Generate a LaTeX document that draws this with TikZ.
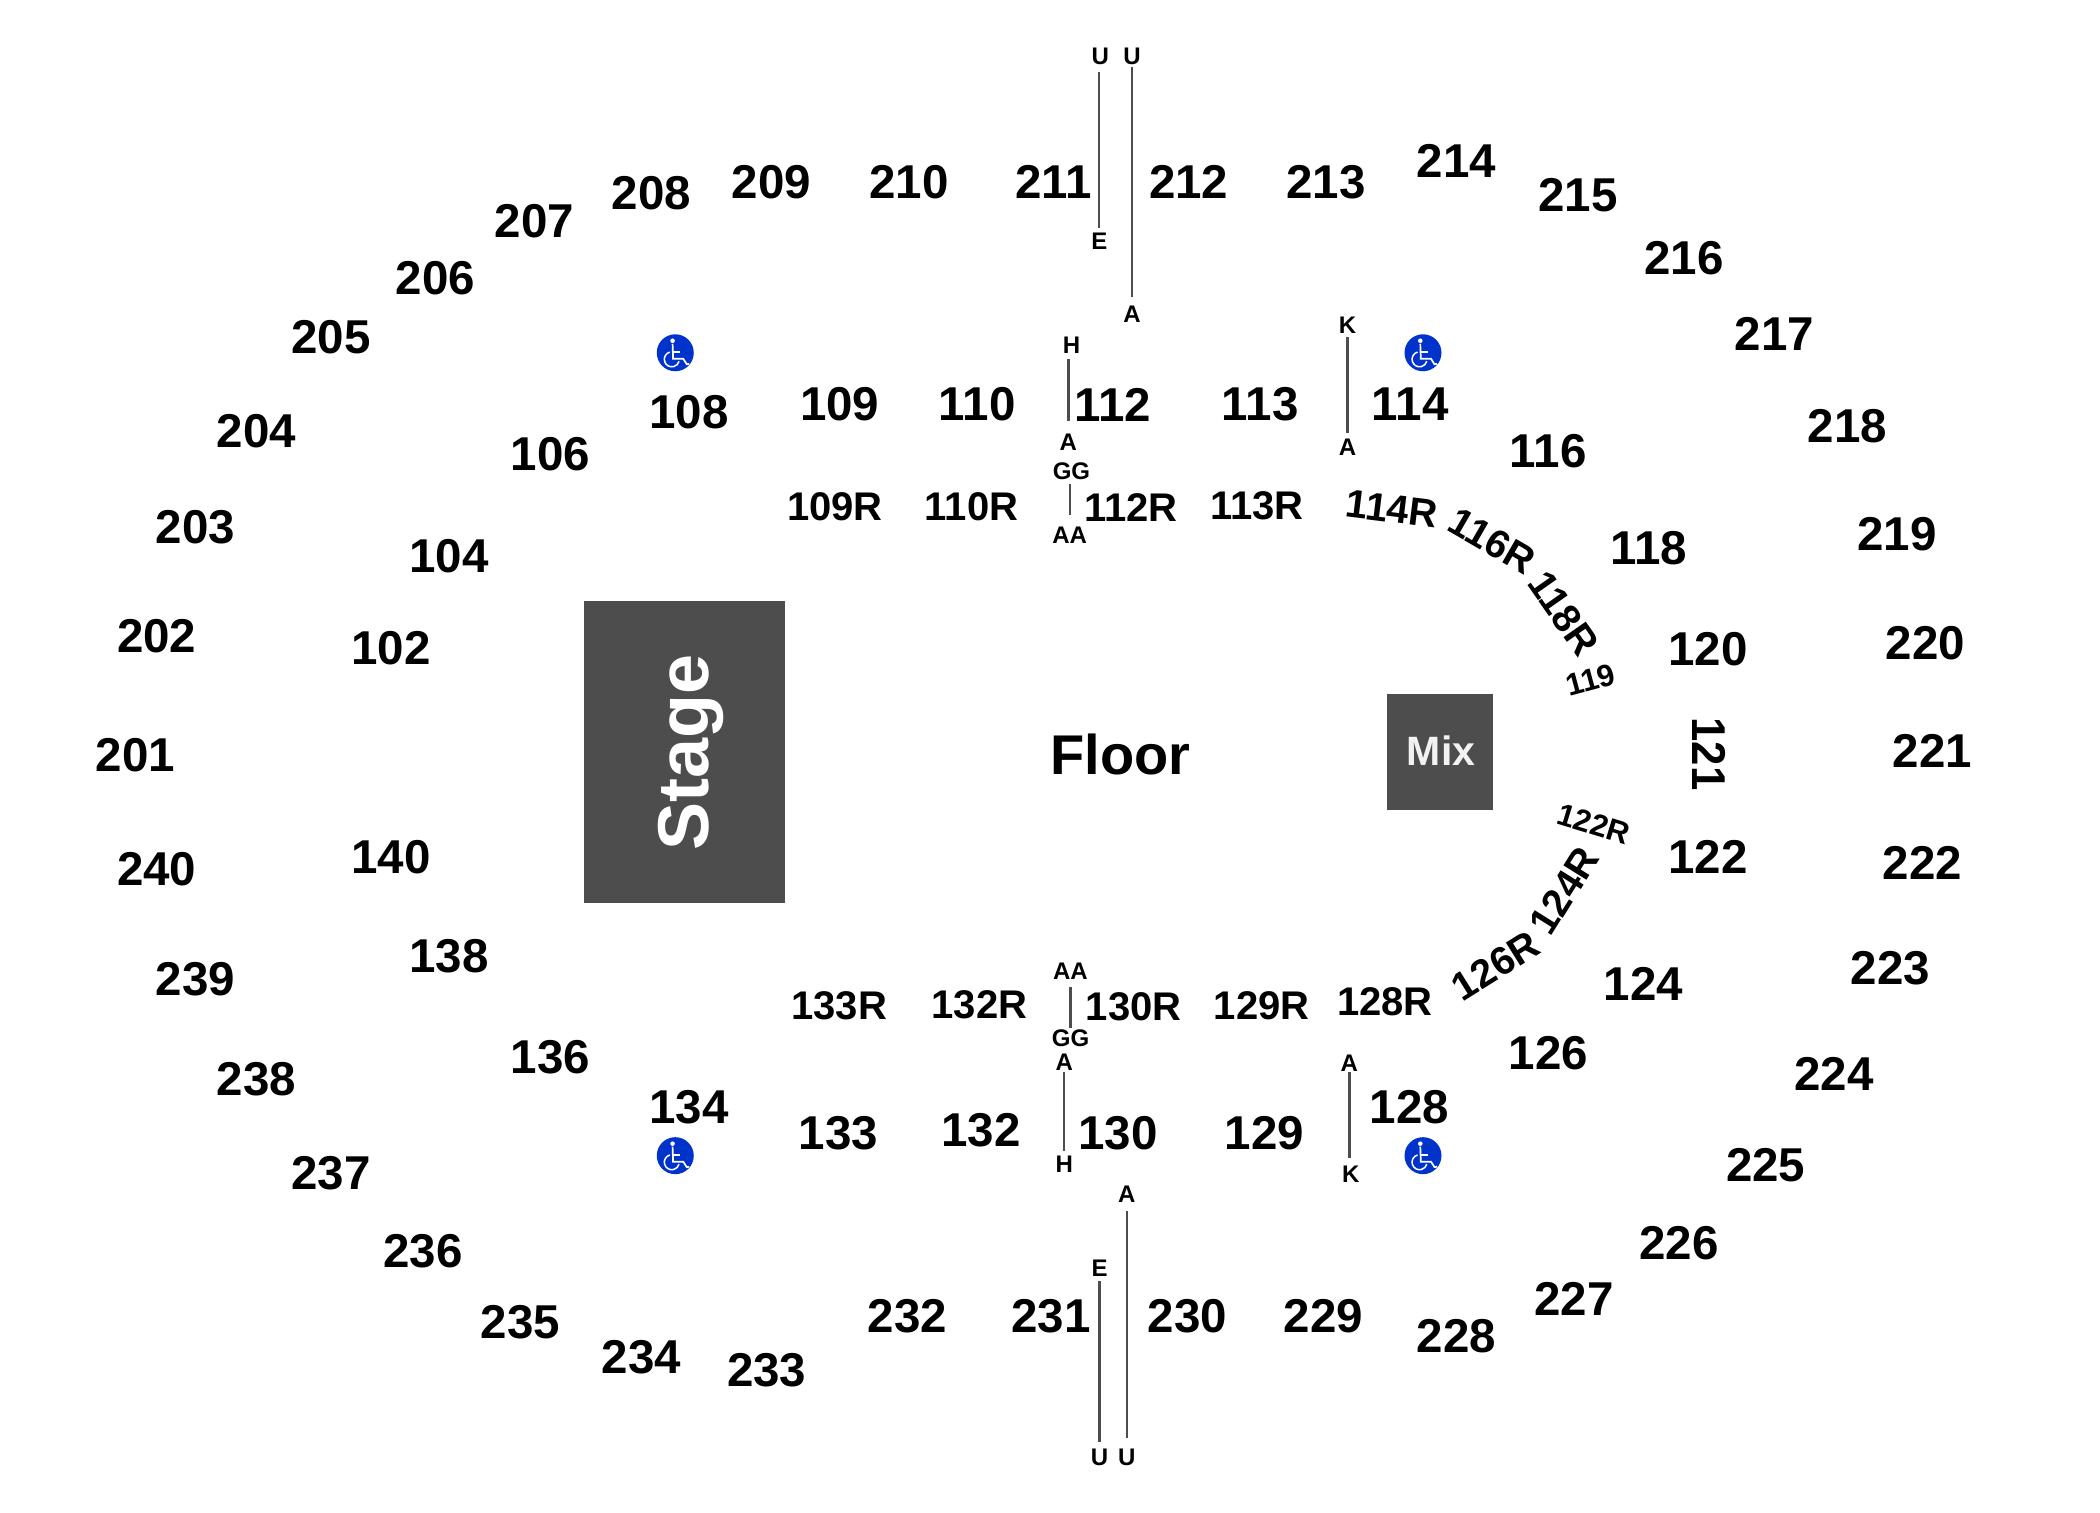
\documentclass[tikz,border=0pt]{standalone}
\usepackage{fontspec}
\usepackage{xcolor}
\setmainfont{Liberation Sans}
\definecolor{venuegrey}{HTML}{4D4D4D}
\definecolor{adablue}{HTML}{0033CC}
\tikzset{
	seclab/.style={inner sep=0pt,font=\fontsize{47.5}{50}\bfseries\selectfont},
	reslab/.style={inner sep=0pt,font=\fontsize{40}{42}\bfseries\selectfont},
	bendlab/.style={inner sep=0pt,font=\fontsize{39.5}{42}\bfseries\selectfont},
	tinylab/.style={inner sep=0pt,font=\fontsize{31}{33}\bfseries\selectfont},
	rowlab/.style={inner sep=0pt,font=\fontsize{24}{26}\bfseries\selectfont},
	rowline/.style={draw=venuegrey,line width=2.4pt},
	darkbox/.style={fill=venuegrey,inner sep=0pt},
	adadisc/.style={circle,fill=adablue,inner sep=0pt,minimum size=37pt},
	adaglyph/.pic={
		\fill[white] (-2.7pt,12pt) circle (2.3pt);
		\draw[white,line width=1.7pt] (-2.7pt,9pt) -- (-2.2pt,-6pt) -- (8pt,-6pt) -- (11.5pt,-11.5pt) -- (14pt,-11pt);
		\draw[white,line width=1.7pt] (-2.5pt,1pt) -- (5pt,1pt);
		\draw[white,line width=1.5pt] (-5.4pt,0.7pt) arc[start angle=105,end angle=345,radius=7.5pt];
	}
}

\begin{document}
\begin{tikzpicture}[x=1.3393pt,y=-1.3393pt]
	\useasboundingbox (0,0) rectangle (1568,1129);

	\node[darkbox,minimum width=201pt,minimum height=302pt] (stagebox) at (511,561.5) {};
	\node[darkbox,minimum width=106pt,minimum height=116pt] (mixbox) at (1075.2,561.2) {};
	\node[inner sep=0pt,rotate=90,text=white,font=\fontsize{72}{75}\bfseries\selectfont] (stagelab) at (516,561.5) {Stage};
	\node[inner sep=0pt,text=white!95!black,font=\fontsize{41}{44}\bfseries\selectfont] (mixlab) at (1076,560.5) {Mix};
	\node[inner sep=0pt,font=\fontsize{56}{58}\bfseries\selectfont] (floorlab) at (836.5,563) {Floor};

	\node[seclab] (s201) at (101,564) {201};
	\node[seclab] (s202) at (117,475) {202};
	\node[seclab] (s203) at (146,394) {203};
	\node[seclab] (s204) at (191.5,322) {204};
	\node[seclab] (s205) at (247,252) {205};
	\node[seclab] (s206) at (325,208) {206};
	\node[seclab] (s207) at (399,165) {207};
	\node[seclab] (s208) at (486.5,144) {208};
	\node[seclab] (s209) at (576,136) {209};
	\node[seclab] (s210) at (678.6,136) {210};
	\node[seclab] (s211) at (786.7,136) {211};
	\node[seclab] (s212) at (887.5,136) {212};
	\node[seclab] (s213) at (990,136) {213};
	\node[seclab] (s214) at (1087.4,120) {214};
	\node[seclab] (s215) at (1178.3,146) {215};
	\node[seclab] (s216) at (1257.4,193) {216};
	\node[seclab] (s217) at (1325,249) {217};
	\node[seclab] (s218) at (1379.5,318) {218};
	\node[seclab] (s219) at (1416.5,399) {219};
	\node[seclab] (s220) at (1437.5,480) {220};
	\node[seclab] (s221) at (1443,561) {221};
	\node[seclab] (s222) at (1435.5,644) {222};
	\node[seclab] (s223) at (1411.5,723) {223};
	\node[seclab] (s224) at (1369.5,802) {224};
	\node[seclab] (s225) at (1318.4,870) {225};
	\node[seclab] (s226) at (1253.5,928) {226};
	\node[seclab] (s227) at (1175.4,970) {227};
	\node[seclab] (s228) at (1087.4,998) {228};
	\node[seclab] (s229) at (988,983) {229};
	\node[seclab] (s230) at (886.6,983) {230};
	\node[seclab] (s231) at (784.8,983) {231};
	\node[seclab] (s232) at (677.6,983) {232};
	\node[seclab] (s233) at (572.5,1023) {233};
	\node[seclab] (s234) at (479,1013) {234};
	\node[seclab] (s235) at (388.6,987) {235};
	\node[seclab] (s236) at (315.8,934) {236};
	\node[seclab] (s237) at (247,876) {237};
	\node[seclab] (s238) at (191.5,806) {238};
	\node[seclab] (s239) at (146,731) {239};
	\node[seclab] (s240) at (117,649) {240};

	\node[seclab] (s102) at (292,484) {102};
	\node[seclab] (s104) at (335.4,415) {104};
	\node[seclab] (s106) at (411,339) {106};
	\node[seclab] (s108) at (514.4,308) {108};
	\node[seclab] (s109) at (627,302) {109};
	\node[seclab] (s110) at (729.6,302) {110};
	\node[seclab] (s112) at (831,302) {112};
	\node[seclab] (s113) at (941,302) {113};
	\node[seclab] (s114) at (1053,302) {114};
	\node[seclab] (s116) at (1156,337) {116};
	\node[seclab] (s118) at (1231,409) {118};
	\node[seclab] (s120) at (1275.4,485) {120};
	\node[seclab,rotate=-90,xscale=.92] (s121) at (1276,563) {121};
	\node[seclab] (s122) at (1275.4,640) {122};
	\node[seclab] (s124) at (1227,735) {124};
	\node[seclab] (s126) at (1156,786) {126};
	\node[seclab] (s128) at (1052.4,827) {128};
	\node[seclab] (s129) at (944,846) {129};
	\node[seclab] (s130) at (834.7,846) {130};
	\node[seclab] (s132) at (732.4,844) {132};
	\node[seclab] (s133) at (626,846) {133};
	\node[seclab] (s134) at (514.4,827) {134};
	\node[seclab] (s136) at (411,789) {136};
	\node[seclab] (s138) at (335.4,714) {138};
	\node[seclab] (s140) at (292,640) {140};

	\node[reslab] (s109R) at (623.4,378) {109R};
	\node[reslab] (s110R) at (725.4,378) {110R};
	\node[reslab] (s112R) at (844.5,379) {112R};
	\node[reslab] (s113R) at (938.5,378) {113R};
	\node[bendlab,rotate=-7] (s114R) at (1039.2,380) {114R};
	\node[bendlab,rotate=-30] (s116R) at (1114,403.7) {116R};
	\node[bendlab,rotate=-55] (s118R) at (1167.5,458) {118R};
	\node[tinylab,rotate=15] (s119) at (1187.5,507.8) {119};
	\node[tinylab,rotate=-17] (s122R) at (1190,615) {122R};
	\node[bendlab,rotate=58] (s124R) at (1168,665) {124R};
	\node[bendlab,rotate=32] (s126R) at (1116.8,721) {126R};
	\node[reslab] (s128R) at (1034,748) {128R};
	\node[reslab] (s129R) at (942,751) {129R};
	\node[reslab] (s130R) at (846.4,752) {130R};
	\node[reslab] (s132R) at (731.4,750) {132R};
	\node[reslab] (s133R) at (626.6,751) {133R};

	\node[rowlab] (uppU) at (821.5,42) {U};
	\node[rowlab] (uppE) at (820.8,180) {E};
	\node[rowlab] (uppUb) at (845.2,42) {U};
	\node[rowlab] (uppA) at (845.2,235) {A};
	\node[rowlab] (midH) at (800,258) {H};
	\node[rowlab] (midA) at (797.7,330) {A};
	\node[rowlab] (resGG) at (800,352) {GG};
	\node[rowlab] (resAA) at (798.7,400) {AA};
	\node[rowlab] (midK) at (1006.2,243) {K};
	\node[rowlab] (midAb) at (1006.2,334) {A};

	\node[rowlab] (lowAA) at (799.3,725) {AA};
	\node[rowlab] (lowGG) at (799.3,775) {GG};
	\node[rowlab] (lowA) at (794.6,793) {A};
	\node[rowlab] (lowH) at (794.6,869) {H};
	\node[rowlab] (lowAb) at (1007.5,794) {A};
	\node[rowlab] (lowK) at (1008.5,877) {K};
	\node[rowlab] (botA) at (841.4,892) {A};
	\node[rowlab] (botU) at (841.4,1088) {U};
	\node[rowlab] (botE) at (821,947) {E};
	\node[rowlab] (botUb) at (821,1088) {U};

	\draw[rowline,shorten <=7.5pt,shorten >=5pt] (uppU.south -| uppE.north) -- (uppE.north);
	\draw[rowline,shorten <=1.7pt,shorten >=9.7pt] (uppUb.south) -- (uppA.north);
	\draw[rowline,shorten <=5pt,shorten >=13pt] (midH.south -| midA.north) -- (midA.north);
	\draw[rowline,shorten <=4pt,shorten >=12pt] (resGG.south -| resAA.north) -- (resAA.north);
	\draw[rowline,shorten <=3pt,shorten >=6pt] (midK.south) -- (midAb.north);
	\draw[rowline,shorten <=8pt,shorten >=1.5pt] (lowAA.south) -- (lowGG.north);
	\draw[rowline,shorten <=1pt,shorten >=4pt] (lowA.south) -- (lowH.north);
	\draw[rowline,shorten <=0.5pt,shorten >=8pt] (lowAb.south) -- (lowK.north -| lowAb.south);
	\draw[rowline,shorten <=7.7pt,shorten >=10.7pt] (botA.south) -- (botU.north);
	\draw[rowline,shorten <=4.7pt,shorten >=6.8pt] (botE.south) -- (botUb.north);

	\node[adadisc] (adaNW) at (504.2,263.4) {};
	\node[adadisc] (adaNE) at (1062.5,263.4) {};
	\node[adadisc] (adaSW) at (504.2,862.9) {};
	\node[adadisc] (adaSE) at (1062.5,862.9) {};
	\pic at (adaNW) {adaglyph};
	\pic at (adaNE) {adaglyph};
	\pic at (adaSW) {adaglyph};
	\pic at (adaSE) {adaglyph};
\end{tikzpicture}
\end{document}
